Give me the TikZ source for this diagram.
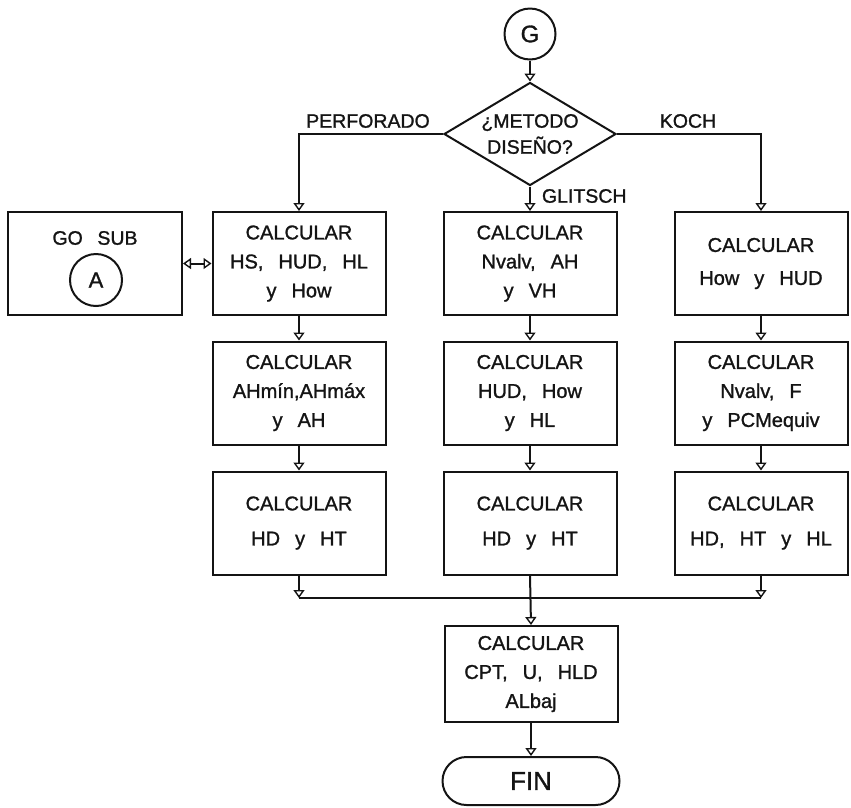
\documentclass[tikz,border=0pt]{standalone}
\usepackage{fontspec}
\setmainfont[WordSpace=2.7, FakeBold=1.2]{Liberation Sans}
\usepackage{tikz}
\usepackage{xcolor}
\usetikzlibrary{
  positioning, arrows.meta, shapes.geometric,
}
\definecolor{cInk}      {HTML}{141414}

\begin{document}
\begin{tikzpicture}[x=1pt, y=1pt, line width=2pt, color=cInk,
    calcBox/.style={draw, rectangle, minimum width=173pt, minimum height=103pt,
      align=center, inner sep=2pt, font=\fontsize{20}{29}\selectfont},
    decisionBox/.style={draw, diamond, aspect=1.67, minimum width=172pt,
      minimum height=103pt, inner sep=0pt, align=center,
      font=\fontsize{19.5}{26}\selectfont},
    connCircle/.style={draw, circle, minimum size=51pt, inner sep=0pt,
      font=\fontsize{24}{24}\selectfont},
    endBox/.style={draw, rectangle, rounded corners=24pt, minimum width=177pt,
      minimum height=48pt, font=\fontsize{26}{26}\selectfont},
    branchLbl/.style={inner sep=0pt, font=\fontsize{19.5}{20}\selectfont},
    flowArrow/.style={-{Triangle[open, width=11pt, length=8pt, line width=1.4pt]}},
  ]
  \useasboundingbox (0,0) rectangle (851,-807);

  % start and decision
  \node[connCircle] (conG) at (530,-34) {G};
  \node[decisionBox] (metodo) at (530,-134) {¿METODO\\DISEÑO?};

  % left column (perforado)
  \node[calcBox] (perf1) at (299,-263.5) {CALCULAR\\HS, HUD, HL\\y How};
  \node[calcBox] (perf2) at (299,-393) {CALCULAR\\AHmín,AHmáx\\y AH};
  \node[calcBox] (perf3) at (299,-523) {CALCULAR\\[6pt]HD y HT};

  % middle column (glitsch)
  \node[calcBox] (glit1) at (530,-263.5) {CALCULAR\\Nvalv, AH\\y VH};
  \node[calcBox] (glit2) at (530,-393) {CALCULAR\\HUD, How\\y HL};
  \node[calcBox] (glit3) at (530,-523) {CALCULAR\\[6pt]HD y HT};

  % right column (koch)
  \node[calcBox] (koch1) at (761,-263.5) {CALCULAR\\[4pt]How y HUD};
  \node[calcBox] (koch2) at (761,-393) {CALCULAR\\Nvalv, F\\y PCMequiv};
  \node[calcBox] (koch3) at (761,-523) {CALCULAR\\[6pt]HD, HT y HL};

  % subroutine
  \node[calcBox, minimum width=174pt] (goSub) at (95,-263.5) {};
  \node[branchLbl] (goSubTxt) at (95,-238) {GO SUB};
  \node[connCircle, minimum size=52pt, font=\fontsize{22}{22}\selectfont] (subA) at (96,-280) {A};

  % end
  \node[calcBox, minimum height=96pt] (calcFin) at (531,-674) {CALCULAR\\CPT, U, HLD\\ALbaj};
  \node[endBox] (fin) at (531,-781) {FIN};
  \coordinate (merge) at (530,-598);

  % branch labels
  \node[branchLbl] (lblPerf) at (368,-121) {PERFORADO};
  \node[branchLbl] (lblKoch) at (688,-121) {KOCH};
  \node[branchLbl, anchor=west] (lblGlit) at (541,-196) {GLITSCH};

  % connectors
  \draw[flowArrow] (conG) -- (metodo.north);
  \draw[flowArrow] (metodo.west) -| (perf1.north);
  \draw[flowArrow] (metodo.east) -| (koch1.north);
  \draw[flowArrow] (metodo.south) -- (glit1.north);
  \draw[flowArrow] (perf1) -- (perf2);
  \draw[flowArrow] (perf2) -- (perf3);
  \draw[flowArrow] (glit1) -- (glit2);
  \draw[flowArrow] (glit2) -- (glit3);
  \draw[flowArrow] (koch1) -- (koch2);
  \draw[flowArrow] (koch2) -- (koch3);
  \draw[{Triangle[open, width=11pt, length=8pt, line width=1.4pt]}-{Triangle[open, width=11pt, length=8pt, line width=1.4pt]}]
    (goSub.east) -- (perf1.west);
  \draw[flowArrow] (perf3.south) -- (perf3.south |- merge);
  \draw[flowArrow] (koch3.south) -- (koch3.south |- merge);
  \draw (perf3.south |- merge) -- (koch3.south |- merge);
  \draw[flowArrow] (glit3.south) -- (calcFin.north);
  \draw[flowArrow] (calcFin) -- (fin);
\end{tikzpicture}
\end{document}
